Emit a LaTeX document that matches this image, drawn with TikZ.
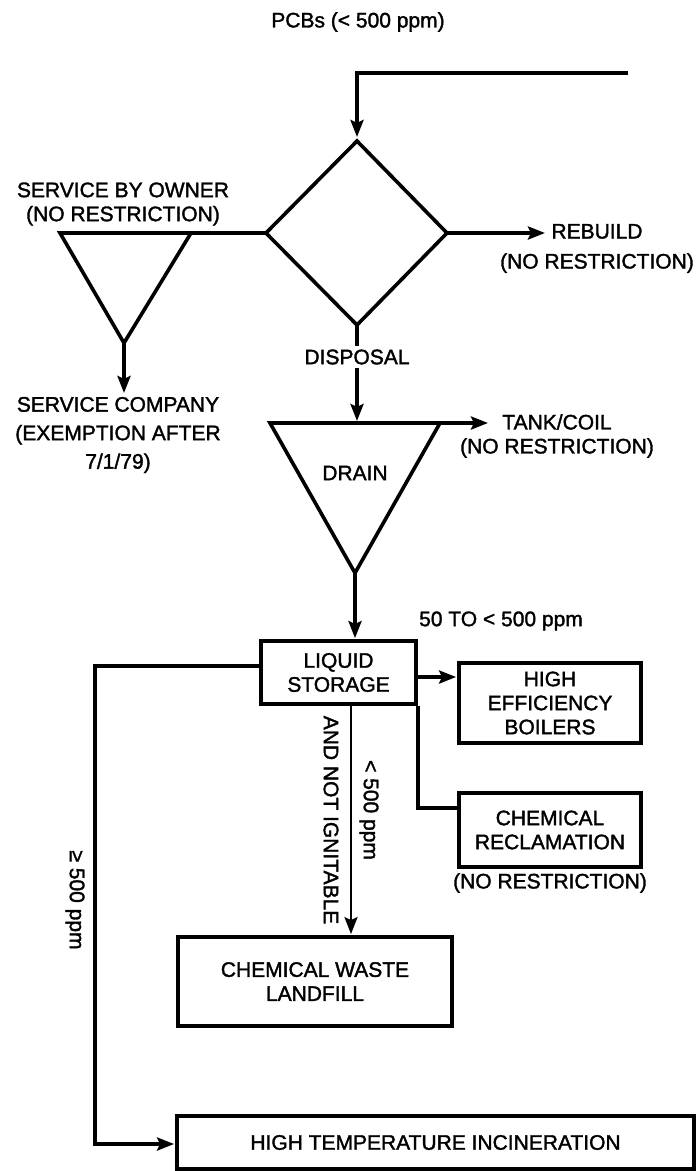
\documentclass[tikz,border=0pt]{standalone}
\usepackage{fontspec}
\setmainfont{Liberation Sans}[FakeBold=1.6]
\usetikzlibrary{arrows.meta}
\begin{document}
\begin{tikzpicture}[x=1pt,y=-1pt,
  line width=3.6pt, line join=miter,
  lbl/.style={font=\fontsize{21}{24}\selectfont, align=center, inner sep=0pt},
  boxnode/.style={draw, line width=3.8pt, font=\fontsize{21}{24}\selectfont, align=center, inner sep=0pt},
  arr/.style={-{Stealth[length=17pt,width=13pt,inset=3pt]}},
  thin/.style={line width=2.8pt}]
\useasboundingbox (0,0) rectangle (697,1171);

% title
\node[lbl] (title) at (358,22) {PCBs ({<} 500 ppm)};

% top feed
\coordinate (feed) at (628,73);
\coordinate (bend) at (357,73);
% diamond
\coordinate (dT) at (357,141);
\coordinate (dL) at (266,233);
\coordinate (dR) at (447,233);
\coordinate (dB) at (357,325);
\draw (dT) -- (dR) -- (dB) -- (dL) -- cycle;
\draw[arr] (feed) -- (bend) -- ([yshift=4pt]dT);

% left triangle (service)
\coordinate (tL) at (60,233);
\coordinate (tR) at (191,233);
\coordinate (tB) at (124,343);
\draw (tL) -- (tR) -- (tB) -- cycle;
\draw (tR) -- (dL);
\coordinate (scT) at (124,393);
\draw[arr] (tB) -- (scT);
\node[lbl] (sbo) at (123,204) {SERVICE BY OWNER\\(NO RESTRICTION)};
\node[lbl, font=\fontsize{21}{28.5}\selectfont] (sc) at (118,435) {SERVICE COMPANY\\(EXEMPTION AFTER\\7/1/79)};

% rebuild
\coordinate (rbT) at (545,233);
\draw[arr] (dR) -- (rbT);
\node[lbl, font=\fontsize{21}{30}\selectfont] (rb) at (597,248.5) {REBUILD\\(NO RESTRICTION)};

% drain triangle
\coordinate (gL) at (270,423);
\coordinate (gR) at (440,423);
\coordinate (gB) at (355,573);
\coordinate (gT) at (357,423);
\draw (gL) -- (gR) -- (gB) -- cycle;
\draw[arr] (dB) -- ([yshift=2pt]gT);
\node[lbl, fill=white, inner ysep=4pt] (disp) at (357,357) {DISPOSAL};
\node[lbl] (drain) at (355,473) {DRAIN};
\coordinate (tkT) at (488,423);
\draw[arr] (gR) -- (tkT);
\node[lbl] (tank) at (557,436) {TANK/COIL\\(NO RESTRICTION)};

% boxes
\node[boxnode, minimum width=155pt, minimum height=63pt] (LS) at (338.5,672.5) {LIQUID\\STORAGE};
\node[boxnode, minimum width=182pt, minimum height=80pt] (HEB) at (550,703) {HIGH\\EFFICIENCY\\BOILERS};
\node[boxnode, minimum width=182pt, minimum height=74pt] (CR) at (550,830) {CHEMICAL\\RECLAMATION};
\node[lbl] (crn) at (550,883) {(NO RESTRICTION)};
\node[boxnode, minimum width=274pt, minimum height=89pt] (CWL) at (315,981.5) {CHEMICAL WASTE\\LANDFILL};
\node[boxnode, minimum width=517pt, minimum height=53pt] (HTI) at (435.5,1142.5) {HIGH TEMPERATURE INCINERATION};

\node[lbl] (fifty) at (501,621) {50 TO {<} 500 ppm};

% drain to storage
\draw[arr] (gB) -- ([yshift=1pt]gB |- LS.north);

% storage to boilers
\coordinate (lsE) at ([yshift=-4.5pt]LS.east);
\draw[arr] (lsE) -- ([xshift=-1pt]lsE -| HEB.west);

% storage to reclamation
\coordinate (crW) at ([yshift=22pt]CR.west);
\draw (LS.south east) |- (crW);

% storage to landfill
\coordinate (lsS) at ([xshift=12.5pt]LS.south);
\draw[arr, thin] (lsS) -- ([yshift=1pt]lsS |- CWL.north);
\node[lbl, rotate=-90] (ani) at (331,820) {AND NOT IGNITABLE};
\node[lbl, rotate=-90] (lt) at (369,810) {{<} 500 ppm};

% storage to incineration
\coordinate (lsW) at ([yshift=6.5pt]LS.west);
\coordinate (lc) at (95,1144);
\draw[arr] (lsW) -| (lc) -- ([xshift=-1pt]lc -| HTI.west);
\node[lbl, rotate=-90] (ge) at (75,900) {≥ 500 ppm};
\end{tikzpicture}
\end{document}
